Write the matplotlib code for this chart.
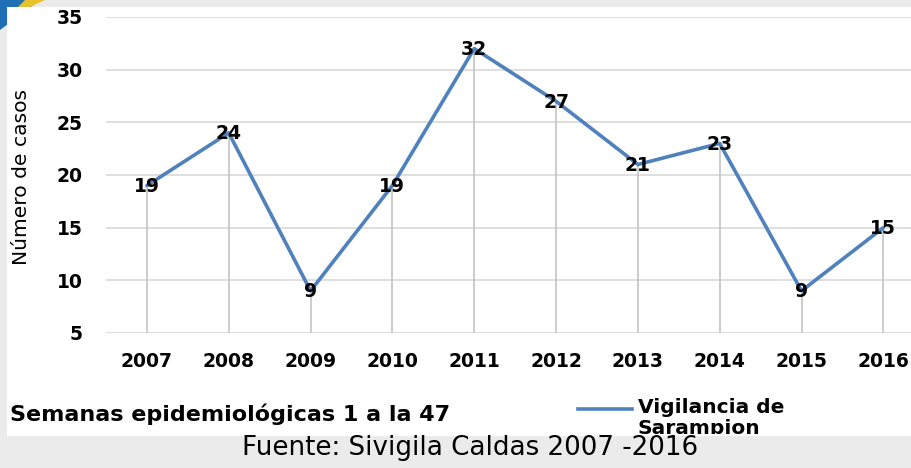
import matplotlib
matplotlib.use("Agg")
import matplotlib.pyplot as plt
from matplotlib.patches import Rectangle, Polygon

years = ["2007", "2008", "2009", "2010", "2011", "2012", "2013", "2014", "2015", "2016"]
cases = [19, 24, 9, 19, 32, 27, 21, 23, 9, 15]
yticks = [5, 10, 15, 20, 25, 30, 35]

W, H = 912, 468
fig = plt.figure(figsize=(W / 100, H / 100), dpi=100)
fig.patch.set_facecolor("#ebebeb")

def fx(px):
    return px / W

def fy(py):
    return 1 - py / H

# decorative corner and white panel
fig.patches.append(Polygon([[0, fy(0)], [fx(40), fy(0)], [0, fy(30)]], closed=True,
                           transform=fig.transFigure, facecolor="#1f6fb5", edgecolor="none", zorder=-10))
fig.patches.append(Polygon([[fx(25), fy(0)], [fx(45), fy(0)], [fx(30), fy(7)], [fx(18), fy(7)]], closed=True,
                           transform=fig.transFigure, facecolor="#e8c22a", edgecolor="none", zorder=-10))
fig.patches.append(Rectangle((fx(7), fy(436)), 1 - fx(7), fy(7) - fy(436),
                             transform=fig.transFigure, facecolor="white", edgecolor="none", zorder=-5))

left, right = fx(106), 1.0
bottom, top = fy(333), fy(17)
ax = fig.add_axes([left, bottom, right - left, top - bottom])
ax.set_zorder(1)
ax.set_facecolor("none")
x = list(range(len(years)))
ax.set_xlim(-0.5, 9.35)
ax.set_ylim(5, 35)
ax.set_yticks(yticks)
for yv in yticks:
    ax.axhline(yv, color="#d9d9d9", lw=1.2, zorder=1)
ax.vlines(x, 5, cases, color="#bfbfbf", lw=1.1, zorder=2)
ax.plot(x, cases, color="#4f81bd", lw=2.6, zorder=3, solid_capstyle="round")
for xi, v in zip(x, cases):
    ax.text(xi, v - 0.1, str(v), ha="center", va="center", fontsize=13.5, fontweight="bold",
            family="DejaVu Sans", color="black", zorder=4)
for s in ax.spines.values():
    s.set_visible(False)
ax.tick_params(length=0)
ax.set_xticks(x)
ax.set_xticklabels(years, fontsize=13.5, fontweight="bold", family="DejaVu Sans")
ax.set_yticklabels([str(v) for v in yticks], fontsize=13.5, fontweight="bold", family="DejaVu Sans")
ax.tick_params(axis="x", pad=14)
ax.tick_params(axis="y", pad=17)

fig.text(fx(22), fy(177), "Número de casos", rotation=90, ha="center", va="center",
         fontsize=14.6, family="DejaVu Sans", color="black")
fig.text(fx(10), fy(414), "Semanas epidemiológicas 1 a la 47", ha="left", va="center",
         fontsize=16, fontweight="bold", family="DejaVu Sans", color="black")

fig.lines.append(plt.Line2D([fx(578), fx(632)], [fy(409), fy(409)], transform=fig.transFigure,
                            color="#4f81bd", lw=2.6))
leg_txt = fig.text(fx(638), fy(398), "Vigilancia de\nSarampion", ha="left", va="top",
                   fontsize=14.5, fontweight="bold", family="DejaVu Sans", color="black",
                   linespacing=1.15)
clip = Rectangle((0, fy(434)), 1, fy(7) - fy(434), transform=fig.transFigure, visible=False)
fig.patches.append(clip)
leg_txt.set_clip_path(clip)

fig.text(fx(470), fy(448), "Fuente: Sivigila Caldas 2007 -2016", ha="center", va="center",
         fontsize=18.8, family="DejaVu Sans", color="black")

fig.savefig("out.png", dpi=100, facecolor=fig.get_facecolor())
